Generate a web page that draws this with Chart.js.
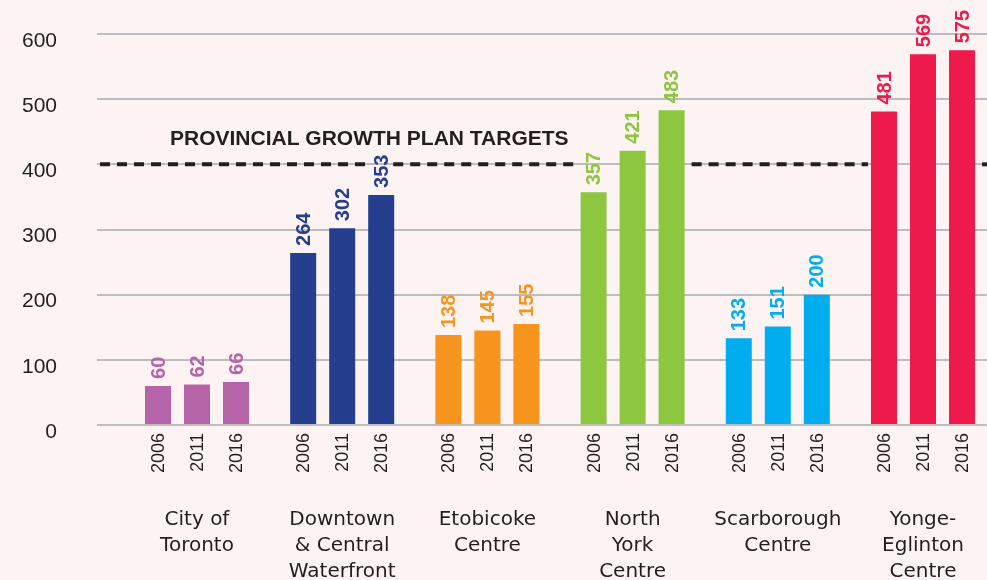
<!DOCTYPE html>
<html>
<head>
<meta charset="utf-8">
<script src="https://cdn.jsdelivr.net/npm/chart.js@4.4.1/dist/chart.umd.min.js"></script>
<style>
  body { margin: 0; background: #fdf3f3; }
  canvas { display: block; background: #fdf3f3; }
</style>
</head>
<body>
<canvas id="chart" width="987" height="580"></canvas>
<script>
// Data
const groups = [
  ['City of', 'Toronto'],
  ['Downtown', '& Central', 'Waterfront'],
  ['Etobicoke', 'Centre'],
  ['North', 'York', 'Centre'],
  ['Scarborough', 'Centre'],
  ['Yonge-', 'Eglinton', 'Centre']
];
const years = ['2006', '2011', '2016'];
const values2006 = [60, 264, 138, 357, 133, 481];
const values2011 = [62, 302, 145, 421, 151, 569];
const values2016 = [66, 353, 155, 483, 200, 575];
const groupColors = ['#b565a7', '#253f8e', '#f7941e', '#8dc63f', '#00aeef', '#ed1a4b'];
const yTicks = [0, 100, 200, 300, 400, 500, 600];
const target = 400;
const targetLabel = 'PROVINCIAL GROWTH PLAN TARGETS';

const textColor = '#231f20';
const valueFont = 'bold 20px "Liberation Sans", Arial, sans-serif';
const seriesValues = [values2006, values2011, values2016];

const ctx = document.getElementById('chart').getContext('2d');

// draws dashed target line, value labels, year labels and group names
const annotations = {
  id: 'annotations',
  beforeDatasetsDraw(chart) {
    const c = chart.ctx;
    const area = chart.chartArea;
    const y = chart.scales.y.getPixelForValue(target);
    const gaps = [];
    // groups that rise past the target break the line
    groups.forEach((g, i) => {
      const maxVal = Math.max(...seriesValues.map(s => s[i]));
      if (maxVal > target) {
        const first = chart.getDatasetMeta(0).data[i];
        const last = chart.getDatasetMeta(seriesValues.length - 1).data[i];
        gaps.push([first.x - first.width / 2 - 3, last.x + last.width / 2 + 7]);
      }
    });
    // value labels that cross the line knock the dashes out
    c.save();
    c.font = valueFont;
    chart.data.datasets.forEach((ds, di) => {
      chart.getDatasetMeta(di).data.forEach((bar, i) => {
        const w = c.measureText(String(ds.data[i].y)).width;
        const bottom = bar.y - 7, top = bottom - w;
        if (top < y && bottom > y) gaps.push([bar.x - 12, bar.x + 12]);
      });
    });
    gaps.sort((a, b) => a[0] - b[0]);
    const segs = [];
    let start = area.left + 3;
    gaps.forEach(g => { if (g[0] > start) segs.push([start, g[0]]); start = Math.max(start, g[1]); });
    segs.push([start, area.right]);
    c.strokeStyle = textColor;
    c.lineWidth = 4;
    c.setLineDash([10, 7]);
    segs.forEach(s => {
      c.beginPath();
      c.moveTo(s[0], y);
      c.lineTo(s[1], y);
      c.stroke();
    });
    c.restore();
  },
  afterDatasetsDraw(chart) {
    const c = chart.ctx;
    const area = chart.chartArea;
    const yT = chart.scales.y.getPixelForValue(target);

    c.save();
    c.fillStyle = textColor;
    c.font = 'bold 21px "Liberation Sans", Arial, sans-serif';
    c.textAlign = 'left';
    c.textBaseline = 'alphabetic';
    c.fillText(targetLabel, area.left + 73, yT - 19);
    c.restore();

    chart.data.datasets.forEach((ds, di) => {
      const meta = chart.getDatasetMeta(di);
      meta.data.forEach((bar, i) => {
        // value label
        c.save();
        c.translate(bar.x, bar.y - 7);
        c.rotate(-Math.PI / 2);
        c.font = valueFont;
        c.fillStyle = groupColors[i];
        c.textAlign = 'left';
        c.textBaseline = 'middle';
        c.fillText(String(ds.data[i].y), 0, 1);
        c.restore();
        // year label
        c.save();
        c.translate(bar.x, area.bottom + 8);
        c.rotate(-Math.PI / 2);
        c.font = '18px "Liberation Sans", Arial, sans-serif';
        c.fillStyle = textColor;
        c.textAlign = 'right';
        c.textBaseline = 'middle';
        c.fillText(ds.label, 0, 1);
        c.restore();
      });
    });

    const xs = chart.scales.x;
    c.save();
    c.font = '20px "DejaVu Sans", sans-serif';
    c.fillStyle = textColor;
    c.textAlign = 'center';
    c.textBaseline = 'middle';
    groups.forEach((lines, i) => {
      const x = xs.getPixelForValue(i);
      lines.forEach((line, k) => {
        c.fillText(line, x, area.bottom + 95 + k * 26);
      });
    });
    c.restore();
  }
};

const chart = new Chart(ctx, {
  type: 'bar',
  data: {
    datasets: years.map((yr, j) => ({
      label: yr,
      data: seriesValues[j].map((v, i) => ({ x: i, y: v })),
      backgroundColor: groupColors,
      borderWidth: 0,
      categoryPercentage: 0.806,
      barPercentage: 0.667
    }))
  },
  options: {
    responsive: false,
    animation: false,
    layout: { padding: { top: 34, bottom: 155, left: 0, right: 0 } },
    plugins: {
      legend: { display: false },
      tooltip: { enabled: false }
    },
    scales: {
      x: {
        type: 'linear',
        display: false,
        offset: false,
        min: -0.6887,
        max: 5.4408,
        grid: { offset: false },
        ticks: { stepSize: 1, includeBounds: false }
      },
      y: {
        min: yTicks[0],
        max: yTicks[yTicks.length - 1],
        afterFit: s => { s.width = 97; s.paddingTop = 0; s.paddingBottom = 0; },
        afterBuildTicks: s => { s.ticks = yTicks.map(v => ({ value: v })); },
        border: { display: false },
        grid: { color: '#bdbcc1', lineWidth: 2, drawTicks: false },
        ticks: {
          color: textColor,
          font: { family: '"Liberation Sans", Arial, sans-serif', size: 21 },
          padding: 40,
          labelOffset: 7
        }
      }
    }
  },
  plugins: [annotations]
});
</script>
</body>
</html>
